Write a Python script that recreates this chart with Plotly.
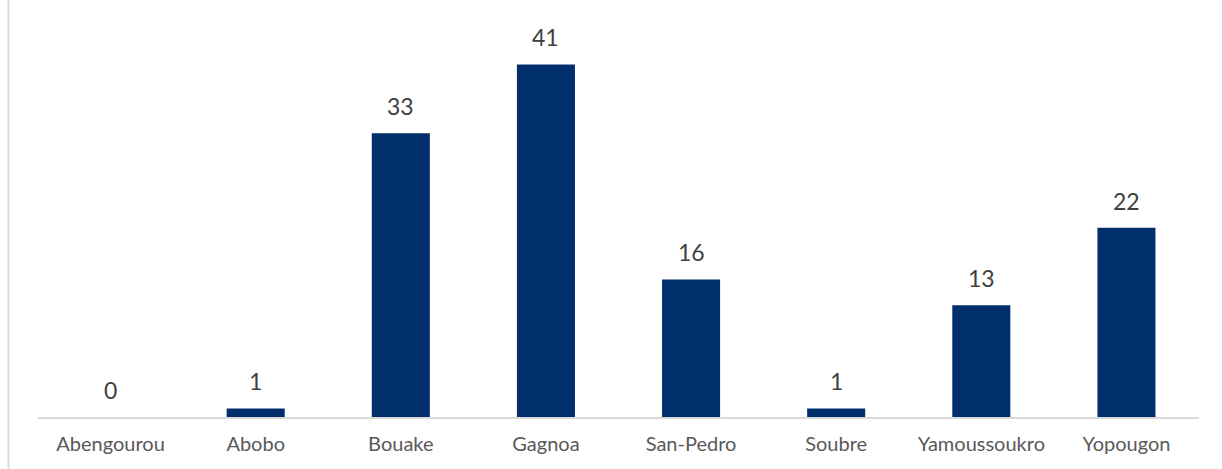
import plotly.graph_objects as go

categories = ["Abengourou", "Abobo", "Bouake", "Gagnoa", "San-Pedro", "Soubre", "Yamoussoukro", "Yopougon"]
values = [0, 1, 33, 41, 16, 1, 13, 22]

fig = go.Figure()
fig.add_trace(go.Bar(x=categories, y=values, marker=dict(color="#002F6B", line=dict(width=0)), width=0.4,
                     hoverinfo="x+y"))

for c, v in zip(categories, values):
    fig.add_annotation(x=c, y=v, text=str(v), showarrow=False, yanchor="bottom", yshift=11,
                       font=dict(family="Lato, Open Sans, sans-serif", size=23, color="#404040"))

fig.add_shape(type="line", xref="paper", yref="paper", x0=-0.0255, x1=-0.0255, y0=-0.2, y1=1.1,
              line=dict(color="#D9D9D9", width=2))

fig.update_layout(
    width=1222, height=469,
    margin=dict(l=38, r=23, t=20, b=52),
    plot_bgcolor="white", paper_bgcolor="white",
    showlegend=False, bargap=0.6,
    xaxis=dict(showline=True, linecolor="#D9D9D9", linewidth=2, ticks="", showgrid=False,
               ticklabelstandoff=8,
               tickfont=dict(family="Lato, Open Sans, sans-serif", size=20, color="#595959")),
    yaxis=dict(range=[0, 46.16], visible=False, showgrid=False, zeroline=False),
)

fig.write_html("out.html")
